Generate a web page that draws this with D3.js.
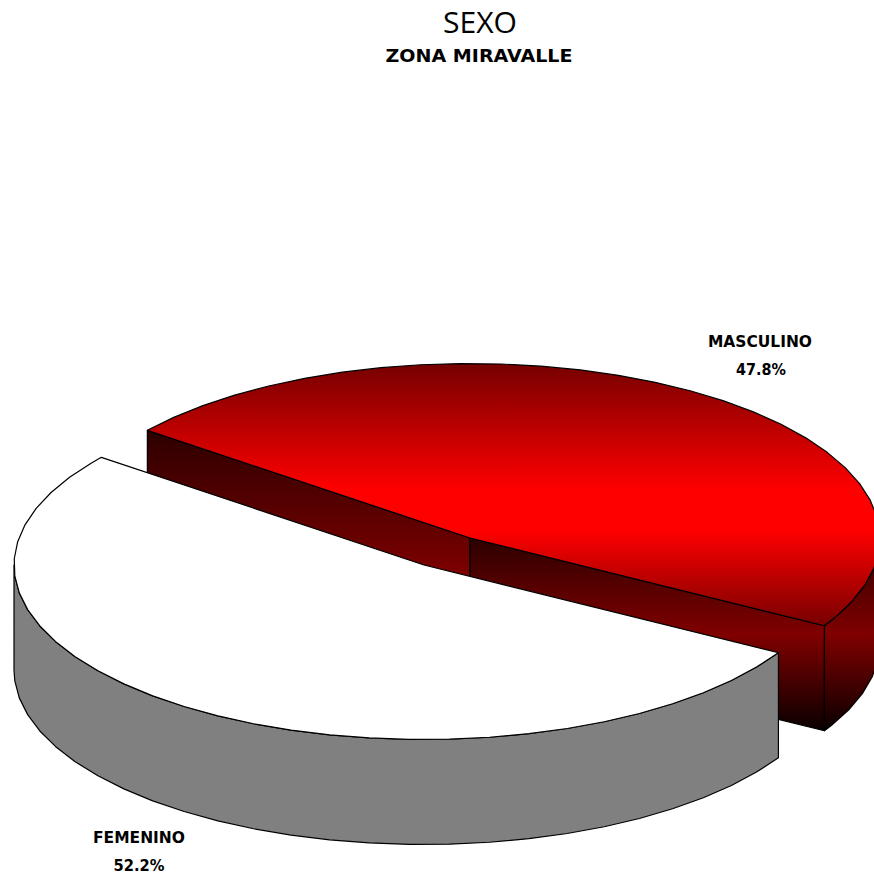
<!DOCTYPE html>
<html>
<head>
<meta charset="utf-8">
<script src="https://cdn.jsdelivr.net/npm/d3@7/dist/d3.min.js"></script>
<style>
html,body{margin:0;padding:0;background:#fff;overflow:hidden}
svg{display:block}
text{fill:#000;text-anchor:middle}
</style>
</head>
<body>
<script>
// Data
const categories = ["MASCULINO", "FEMENINO"];
const percentages = [47.8, 52.2];
const titleText = "SEXO";
const subtitleText = "ZONA MIRAVALLE";

// Layout
const W = 874, H = 877;
const RX = 410, RY = 174.5, DEPTH = 105;
const START_DEG = -51.9, STEP_DEG = 5.625;
const centres = [{x: 470, y: 538}, {x: 424, y: 565}];
const sliceTop = ["url(#redTop)", "#ffffff"];
const sliceSide = ["url(#redSide)", "#808080"];

const svg = d3.select("body").append("svg").attr("width", W).attr("height", H).attr("viewBox", `0 0 ${W} ${H}`);

// Gradients
const defs = svg.append("defs");
function grad(id, y1, y2, stops) {
  const g = defs.append("linearGradient").attr("id", id)
    .attr("gradientUnits", "userSpaceOnUse")
    .attr("x1", 0).attr("x2", 0).attr("y1", y1).attr("y2", y2);
  stops.forEach(([o, c]) => g.append("stop").attr("offset", o).attr("stop-color", c));
}
grad("redTop", 364, 626, [[0, "#760000"], [0.48, "#ff0000"], [0.634, "#ff0000"], [1, "#760000"]]);
grad("redSide", 538, 731, [[0, "#2c0000"], [0.5, "#800000"], [1, "#080000"]]);
grad("redCutLeft", 430, 580, [[0, "#2c0000"], [1, "#800000"]]);

const pie = d3.pie().sort(null).value(d => d)
  .startAngle(START_DEG * Math.PI / 180)
  .endAngle((START_DEG + 360) * Math.PI / 180);
const arcs = pie(percentages);

// Scales mapping the unit circle to the tilted ellipse of a slice
const scaleX = c => d3.scaleLinear().domain([-1, 1]).range([c.x - RX, c.x + RX]);
const scaleY = c => d3.scaleLinear().domain([-1, 1]).range([c.y - RY, c.y + RY]);

function rimPoints(c, a0, a1, dy = 0) {
  const sx = scaleX(c), sy = scaleY(c), step = STEP_DEG * Math.PI / 180;
  const angles = d3.range(a0, a1, step).concat([a1]);
  return angles.map(a => [sx(Math.sin(a)), sy(-Math.cos(a)) + dy]);
}
const line = d3.line();
const closed = pts => line(pts) + "Z";
const faceStyle = (sel, fill) => sel.attr("fill", fill).attr("stroke", "#000")
  .attr("stroke-width", 1.2).attr("stroke-linejoin", "round");

// Outer wall of a slice between two angles
function wall(i, a0, a1) {
  const top = rimPoints(centres[i], a0, a1);
  const bottom = top.map(([x, y]) => [x, y + DEPTH]).reverse();
  faceStyle(svg.append("path").attr("d", closed(top.concat(bottom))), sliceSide[i]);
}

// --- Red slice (behind) ---
{
  const a = arcs[0], c = centres[0];
  const A = rimPoints(c, a.startAngle, a.startAngle)[0];
  const B = rimPoints(c, a.endAngle, a.endAngle)[0];
  const O = [c.x, c.y];
  const down = p => [p[0], p[1] + DEPTH];
  faceStyle(svg.append("path").attr("d", closed([A, O, down(O), down(A)])), "url(#redCutLeft)");
  faceStyle(svg.append("path").attr("d", closed([O, B, down(B), down(O)])), "url(#redSide)");
  wall(0, Math.PI / 2, a.endAngle);
  faceStyle(svg.append("path").attr("d", closed(rimPoints(c, a.startAngle, a.endAngle).concat([O]))), sliceTop[0]);
}

// --- White slice (front) ---
{
  const a = arcs[1], c = centres[1];
  wall(1, a.startAngle, 1.5 * Math.PI);
  faceStyle(svg.append("path").attr("d", closed(rimPoints(c, a.startAngle, a.endAngle).concat([[c.x, c.y]]))), sliceTop[1]);
}

// --- Text ---
function label(txt, x, y, size, weight, width, family) {
  svg.append("text").attr("x", x).attr("y", y)
    .attr("font-family", family).attr("font-size", size).attr("font-weight", weight)
    .attr("textLength", width).attr("lengthAdjust", "spacingAndGlyphs")
    .text(txt);
}
const sans = "'Open Sans', sans-serif", wide = "'DejaVu Sans', sans-serif";
label(titleText, 480, 33, 30, 400, 74, sans);
label(subtitleText, 479, 62, 18, 700, 187, wide);
label(categories[0], 760, 347, 15, 700, 104, wide);
label(percentages[0].toFixed(1) + "%", 761, 375, 15, 700, 50, wide);
label(categories[1], 139, 843, 15, 700, 92, wide);
label(percentages[1].toFixed(1) + "%", 139, 871, 15, 700, 51, wide);
</script>
</body>
</html>
